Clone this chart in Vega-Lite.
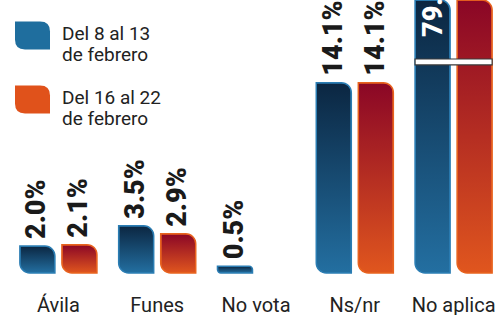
{
  "$schema": "https://vega.github.io/schema/vega-lite/v6.json",
  "width": 494,
  "height": 273,
  "autosize": "none",
  "padding": {"left": 9, "top": 0, "right": 0, "bottom": 42},
  "background": "white",
  "config": {
    "view": {"stroke": null},
    "axisX": {"domain": false, "ticks": false, "grid": false, "labelFont": "Roboto", "labelFontSize": 20, "labelColor": "#222222", "labelPadding": 22, "labelAngle": 0, "labelBaseline": "top", "title": null},
    "legend": {"padding": 0, "offset": 0}
  },
  "data": {
    "values": [
      {"cat": "Ávila", "serie": "Del 8 al 13 de febrero", "v": 0.020},
      {"cat": "Ávila", "serie": "Del 16 al 22 de febrero", "v": 0.021},
      {"cat": "Funes", "serie": "Del 8 al 13 de febrero", "v": 0.035},
      {"cat": "Funes", "serie": "Del 16 al 22 de febrero", "v": 0.029},
      {"cat": "No vota", "serie": "Del 8 al 13 de febrero", "v": 0.005},
      {"cat": "Ns/nr", "serie": "Del 8 al 13 de febrero", "v": 0.141},
      {"cat": "Ns/nr", "serie": "Del 16 al 22 de febrero", "v": 0.141},
      {"cat": "No aplica", "serie": "Del 8 al 13 de febrero", "v": 0.799},
      {"cat": "No aplica", "serie": "Del 16 al 22 de febrero", "v": 0.809}
    ]
  },
  "encoding": {
    "x": {"field": "cat", "type": "nominal", "sort": ["Ávila", "Funes", "No vota", "Ns/nr", "No aplica"], "scale": {"paddingInner": 0.22, "paddingOuter": 0.11}, "axis": {"title": null}},
    "xOffset": {"field": "serie", "type": "nominal", "sort": ["Del 8 al 13 de febrero", "Del 16 al 22 de febrero"], "scale": {"paddingInner": 0.1667, "paddingOuter": 0}},
    "y": {"field": "v", "type": "quantitative", "scale": {"domain": [0, 0.2022], "clamp": true, "nice": false, "zero": true}, "axis": null}
  },
  "layer": [
    {
      "mark": {"type": "bar", "fill": "#d2d2d2", "xOffset": 4, "yOffset": 1, "cornerRadiusTopRight": 10, "cornerRadiusBottomLeft": 10}
    },
    {
      "mark": {"type": "bar", "cornerRadiusTopRight": 10, "cornerRadiusBottomLeft": 10},
      "encoding": {
        "color": {
          "field": "serie", "type": "nominal", "sort": ["Del 8 al 13 de febrero", "Del 16 al 22 de febrero"],
          "scale": {"range": ["#1f6e9e", "#e0521b"]},
          "legend": {
            "title": null, "orient": "none", "legendX": 9.5, "legendY": 20, "direction": "vertical",
            "symbolType": "M-1.25,-0.89 L0.54,-0.89 Q1.25,-0.89 1.25,-0.18 L1.25,1.11 L-0.54,1.11 Q-1.25,1.11 -1.25,0.4 Z",
            "symbolSize": 784, "symbolStrokeWidth": 0, "symbolOpacity": 1,
            "labelFont": "Roboto", "labelFontSize": 19, "labelColor": "#222222", "labelOffset": 15.5, "labelBaseline": "middle",
            "labelExpr": "datum.label == 'Del 8 al 13 de febrero' ? ['Del 8 al 13', 'de febrero'] : ['Del 16 al 22', 'de febrero']",
            "rowPadding": 19, "labelLimit": 300,
            "encode": {"symbols": {"update": {"size": {"value": 784}, "strokeWidth": {"value": 0}}}, "labels": {"update": {"lineHeight": {"value": 21}}}}
          }
        }
      }
    },
    {
      "mark": {"type": "bar", "cornerRadiusTopRight": 10, "cornerRadiusBottomLeft": 10, "strokeWidth": 1.5},
      "encoding": {
        "fill": {
          "condition": {"test": "datum.serie == 'Del 8 al 13 de febrero'", "value": {"gradient": "linear", "x1": 0, "y1": 0, "x2": 0, "y2": 1, "stops": [{"offset": 0, "color": "#0b2641"}, {"offset": 1, "color": "#236fa1"}]}},
          "value": {"gradient": "linear", "x1": 0, "y1": 0, "x2": 0, "y2": 1, "stops": [{"offset": 0, "color": "#8a0626"}, {"offset": 1, "color": "#e0561e"}]}
        },
        "stroke": {
          "condition": {"test": "datum.serie == 'Del 8 al 13 de febrero'", "value": "#2b7db3"},
          "value": "#e8631f"
        }
      }
    },
    {
      "transform": [{"filter": "datum.v < 0.2"}],
      "mark": {"type": "text", "angle": 270, "align": "left", "baseline": "alphabetic", "dx": 7, "dy": 8, "font": "Roboto", "fontWeight": 900, "fontSize": 27, "color": "#1a1a1a"},
      "encoding": {"text": {"field": "v", "type": "quantitative", "format": ".1%"}}
    },
    {
      "transform": [{"filter": "datum.v >= 0.2 && datum.serie == 'Del 8 al 13 de febrero'"}],
      "mark": {"type": "text", "angle": 270, "align": "left", "baseline": "alphabetic", "dx": -37, "dy": 9, "font": "Roboto", "fontWeight": 900, "fontSize": 27, "color": "white"},
      "encoding": {"text": {"field": "v", "type": "quantitative", "format": ".1%"}}
    },
    {
      "transform": [{"filter": "datum.v >= 0.2 && datum.serie == 'Del 8 al 13 de febrero'"}],
      "mark": {"type": "bar", "fill": "white", "stroke": "#3a3a3a", "strokeWidth": 1.2},
      "encoding": {
        "xOffset": null,
        "y": {"datum": 0.1541, "type": "quantitative"},
        "y2": {"datum": 0.1585}
      }
    }
  ]
}
